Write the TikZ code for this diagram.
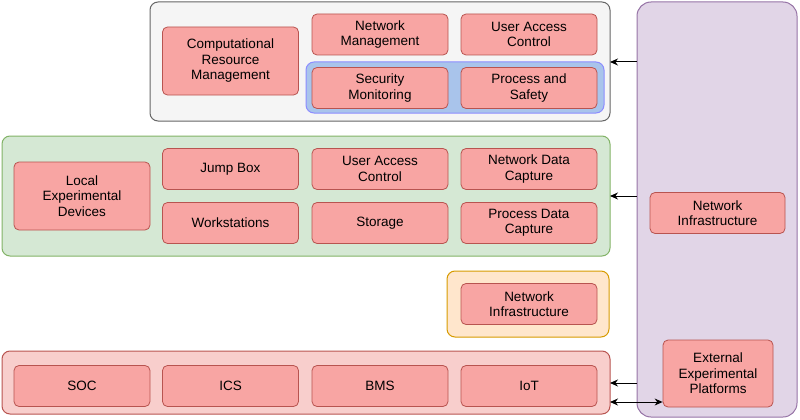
\documentclass[tikz,border=0pt]{standalone}
\usepackage{fontspec}
\setmainfont{Liberation Sans}
\usetikzlibrary{arrows.meta}
\definecolor{nodef}{HTML}{F8A5A3}
\definecolor{noded}{HTML}{B85450}
\tikzset{
 cont/.style={draw, rounded corners=8pt, line width=1pt},
 box/.style={draw=noded, fill=nodef, rounded corners=5pt, line width=0.8pt, align=center, inner sep=1pt,
   font=\fontsize{13.5}{15.5}\selectfont, minimum width=136pt, minimum height=41pt},
 arr/.style={-{Stealth[length=8pt,width=7pt]}, line width=1pt},
}
\begin{document}
\begin{tikzpicture}[x=1pt,y=-1pt]
\useasboundingbox (0,0) rectangle (800,420);
% containers
\draw[cont, draw=black!60, fill=black!4] (150,2) rectangle (610,121);
\draw[cont, draw=blue!45, fill={rgb,255:red,169;green,196;blue,235}] (306,62) rectangle (604,113);
\draw[cont, draw={rgb,255:red,130;green,179;blue,102}, fill={rgb,255:red,213;green,232;blue,212}] (2,136) rectangle (610,256);
\draw[cont, draw={rgb,255:red,215;green,155;blue,0}, fill={rgb,255:red,255;green,230;blue,204}] (447,271) rectangle (609,337);
\draw[cont, draw=noded, fill={rgb,255:red,248;green,206;blue,204}] (2,351) rectangle (610,414);
\draw[cont, rounded corners=14pt, draw={rgb,255:red,150;green,115;blue,166}, fill={rgb,255:red,225;green,213;blue,231}] (637,2) rectangle (797,417);
\coordinate (pt) at (637,62); \coordinate (ct) at (610,62);
\coordinate (pg) at (637,196); \coordinate (cg) at (610,196);
\coordinate (pr) at (637,383); \coordinate (cr) at (610,383);
\coordinate (cr2) at (610,402);
% top
\node[box, minimum height=68pt] (crm) at (230.5,61) {Computational\\Resource\\Management};
\node[box] (nm) at (380,34.5) {Network\\Management};
\node[box] (uac1) at (529,34.5) {User Access\\Control};
\node[box] (sm) at (380,88) {Security\\Monitoring};
\node[box] (ps) at (529,88) {Process and\\Safety};
% green
\node[box, minimum height=68pt] (led) at (82,196) {Local\\Experimental\\Devices};
\node[box] (jb) at (230.5,169) {Jump Box};
\node[box] (uac2) at (380,169) {User Access\\Control};
\node[box] (ndc) at (529,169) {Network Data\\Capture};
\node[box] (ws) at (230.5,223) {Workstations};
\node[box] (st) at (380,223) {Storage};
\node[box] (pdc) at (529,223) {Process Data\\Capture};
% orange
\node[box] (ni1) at (529,304) {Network\\Infrastructure};
% red
\node[box] (soc) at (82,386) {SOC};
\node[box] (ics) at (230.5,386) {ICS};
\node[box] (bms) at (380,386) {BMS};
\node[box] (iot) at (529,386) {IoT};
% purple
\node[box, minimum width=135pt] (ni2) at (717.5,213) {Network\\Infrastructure};
\node[box, minimum width=110pt, minimum height=67pt] (eep) at (718,373.5) {External\\Experimental\\Platforms};
% arrows
\draw[arr] (pt) -- (ct);
\draw[arr] (pg) -- (cg);
\draw[arr] (pr) -- (cr);
\draw[arr, {Stealth[length=8pt,width=7pt]}-{Stealth[length=8pt,width=7pt]}] (cr2) -- (cr2 -| eep.west);
\end{tikzpicture}
\end{document}
